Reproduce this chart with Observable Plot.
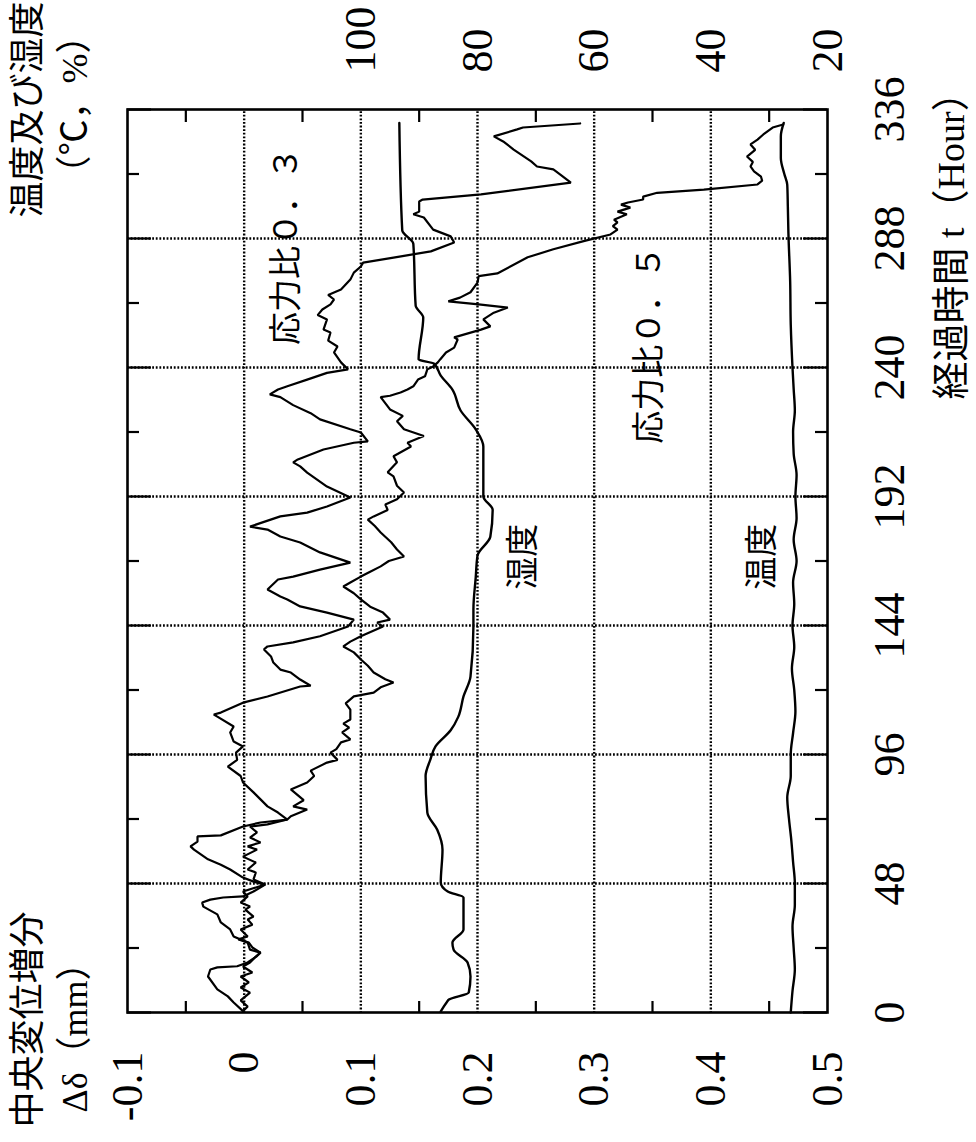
<!DOCTYPE html>
<html><head><meta charset="utf-8">
<script src="https://cdn.jsdelivr.net/npm/d3@7"></script>
<script src="https://cdn.jsdelivr.net/npm/@observablehq/plot@0.6"></script>
<style>
html,body{margin:0;padding:0;background:#fff;overflow:hidden;width:976px;height:1142px;}
#rot{position:absolute;left:0;top:0;width:1142px;height:976px;transform-origin:0 0;transform:translate(0,1142px) rotate(-90deg);}
</style></head><body><div id="rot"></div>
<script>
// ---- data ----
const hourTicks = [0, 48, 96, 144, 192, 240, 288, 336];
const hourMinor = [24, 72, 120, 168, 216, 264, 312];
const deltaTicks = [-0.1, 0, 0.1, 0.2, 0.3, 0.4, 0.5];
const deltaTickLabels = ["-0.1", "0", "0.1", "0.2", "0.3", "0.4", "0.5"];
const deltaMinor = [-0.05, 0.05, 0.15, 0.25, 0.35, 0.45];
const envTicks = [100, 80, 60, 40, 20];

// stress ratio 0.3 : [hour, Δδ (mm)]
const ratio03 = [[0.5,-0.001],[3.7,-0.009],[6,-0.014],[8.6,-0.023],[13.4,-0.031],[16,-0.029],[16.8,-0.023],[17.2,-0.006],[18.6,0.003],[21,0.011],[22.3,0.014],[23.4,0.005],[26,0.003],[28.3,-0.009],[30.9,-0.012],[33.5,-0.020],[36.5,-0.023],[39.4,-0.035],[40.9,-0.036],[42,-0.029],[42.8,-0.018],[43.2,-0.001],[45,0.008],[47.6,0.018],[48.7,0.008],[50.2,-0.001],[53.2,-0.012],[55,-0.020],[57,-0.031],[60.6,-0.043],[61.8,-0.046],[63.6,-0.040],[65.5,-0.040],[65.9,-0.020],[69.2,-0.001],[70.7,0.014],[71.8,0.037],[74.4,0.029],[76.7,0.020],[79.3,0.014],[81.9,0.008],[85.6,-0.001],[88,-0.003],[91.5,-0.014],[94,-0.006],[96.7,-0.007],[99,-0.001],[100.8,-0.009],[104.2,-0.012],[106.4,-0.009],[110.1,-0.023],[110.9,-0.026],[111.6,-0.020],[115.3,-0.001],[117.6,0.020],[121.3,0.048],[121.6,0.057],[123.9,0.048],[126.5,0.040],[127.6,0.031],[130.2,0.025],[132.5,0.023],[135.1,0.017],[136.2,0.020],[137.7,0.042],[140,0.065],[143.6,0.089],[146.2,0.094],[148.8,0.071],[151.1,0.048],[153.7,0.037],[154.8,0.031],[157.4,0.020],[161.1,0.029],[162.2,0.042],[164.8,0.065],[167.4,0.091],[171.2,0.065],[174.9,0.048],[177.1,0.031],[179.7,0.020],[180.8,0.005],[184.6,0.031],[186,0.054],[188.3,0.071],[191.6,0.091],[195.7,0.071],[200.9,0.054],[203.2,0.048],[204.7,0.042],[205.8,0.046],[209.5,0.068],[212,0.094],[212.5,0.106],[215.8,0.100],[217,0.091],[220.7,0.065],[223,0.057],[226,0.042],[229,0.031],[230,0.022],[231.8,0.029],[233,0.037],[235.5,0.054],[238,0.071],[239.3,0.089],[241.9,0.083],[245.6,0.077],[247.8,0.080],[250,0.072],[253,0.074],[254.1,0.068],[257.9,0.071],[259.5,0.063],[261.6,0.067],[263.5,0.074],[265.3,0.077],[267,0.072],[269,0.083],[272.7,0.091],[275.3,0.094],[277.6,0.100],[279,0.102],[280.9,0.128],[283.2,0.160],[286.5,0.180],[288.8,0.177],[291.3,0.162],[295.8,0.154],[297,0.145],[298,0.150],[301.8,0.150],[302.5,0.153],[304.4,0.203],[308.8,0.280],[311.8,0.271],[313.7,0.265],[314.8,0.251],[316.7,0.246],[321.1,0.231],[324.1,0.222],[326,0.214],[328.6,0.234],[329.3,0.239],[330.8,0.288]];

// stress ratio 0.5 : [hour, Δδ (mm)]
const ratio05 = [[0.5,-0.001],[2.2,0.003],[4.5,-0.003],[7.4,0.005],[9.3,-0.003],[11.2,0.004],[13.4,-0.003],[14.9,0.007],[17.1,-0.001],[18.6,0.005],[20.8,0.010],[22.3,0.014],[24.2,0.007],[26,0.004],[27.2,-0.005],[28.3,0.003],[30.9,-0.003],[32.7,0.007],[34.6,0.003],[35.7,0.008],[38.3,0.001],[39.4,0.005],[40.9,-0.003],[43.2,0.003],[45,-0.001],[47.6,0.018],[49.5,0.008],[52.1,0.010],[53.2,0.003],[55.8,0.010],[58,-0.001],[60.6,0.011],[61.8,0.003],[63.3,0.014],[65.1,0.005],[67,0.011],[69.2,0.005],[70,0.020],[71.8,0.037],[73,0.040],[75.5,0.054],[76.7,0.042],[79,0.051],[83,0.040],[85.6,0.054],[88,0.060],[90,0.057],[93,0.071],[94,0.080],[96.7,0.074],[98,0.079],[100.5,0.083],[101.6,0.091],[104.2,0.084],[106,0.090],[107.5,0.085],[109,0.091],[112.7,0.091],[115,0.087],[117.6,0.094],[119,0.111],[121,0.117],[122.8,0.128],[124,0.121],[126.5,0.111],[129,0.106],[131,0.101],[134,0.094],[136.2,0.085],[138,0.091],[140,0.100],[143.6,0.119],[145.1,0.114],[146.2,0.125],[148.8,0.119],[151,0.108],[153.7,0.100],[156,0.094],[158.5,0.085],[160,0.091],[162.2,0.100],[164,0.108],[166,0.117],[168,0.124],[169.7,0.137],[172.3,0.131],[175,0.126],[178.6,0.117],[181,0.112],[183.4,0.106],[184.6,0.111],[187,0.123],[189,0.121],[191,0.131],[193.5,0.137],[196,0.131],[199.5,0.128],[201,0.123],[204.7,0.131],[207,0.128],[210.6,0.143],[212,0.140],[214.5,0.154],[217,0.137],[220,0.131],[222,0.136],[224.4,0.125],[229,0.117],[229.5,0.125],[230.7,0.134],[231.8,0.140],[233,0.145],[235.5,0.149],[236.7,0.155],[239.3,0.157],[240.4,0.162],[241.9,0.166],[243,0.168],[245.6,0.173],[247.4,0.180],[250.4,0.183],[251.2,0.180],[254.1,0.203],[255.3,0.211],[257.9,0.205],[260.4,0.214],[262.3,0.226],[263.5,0.201],[264.6,0.175],[266,0.185],[268,0.194],[271.6,0.200],[274,0.201],[275,0.217],[281,0.243],[284,0.265],[287,0.291],[289.5,0.314],[291.3,0.320],[292.6,0.316],[294,0.320],[295,0.317],[297,0.328],[298,0.320],[299.5,0.331],[300.6,0.323],[301.4,0.329],[302.5,0.342],[303.6,0.342],[305,0.354],[306.2,0.394],[308.1,0.440],[309.5,0.444],[311,0.443],[313,0.437],[314.8,0.434],[316.5,0.436],[318.5,0.431],[321,0.438],[323,0.434],[324.8,0.440],[326.7,0.445],[329.3,0.453],[330.4,0.462]];

// humidity (%) : [hour, value]
const humidity = [[0.4,86.3],[3.7,85.3],[4.8,84.9],[7.4,81.5],[13.4,81.2],[18.6,81.7],[23.4,84.1],[26,84.3],[30.9,82.4],[42.8,82.4],[45,85.1],[48.4,86.3],[60.6,86],[68,86.9],[74.4,88.6],[88,88.9],[94,88.1],[99,87.2],[105,84.6],[110,83.3],[117.6,82.4],[125,81.2],[143.6,80.7],[150,80.7],[162,80.3],[170,80],[177,77.8],[187,77.4],[192,79],[210.6,79],[217,80.3],[224,82.9],[231.8,84.3],[237,86.3],[241.5,87.5],[243,90.1],[258.6,89.3],[263,90.6],[286,91],[291,92.9],[331,93.4]];

// temperature (°C) : [hour, value]
const temperature = [[0,26.3],[8,26.0],[16,25.6],[24,25.8],[32,26.0],[40,25.6],[48,25.6],[56,25.9],[64,26.2],[72,26.6],[80,26.9],[88,26.3],[96,26.3],[104,25.9],[112,25.5],[120,25.7],[128,26.1],[136,25.7],[144,26.0],[152,25.7],[160,25.9],[168,25.3],[176,25.8],[184,25.3],[192,25.5],[200,25.3],[208,25.8],[216,25.9],[224,25.6],[232,25.8],[240,26.0],[256,26.3],[272,26.4],[290,26.7],[300,26.8],[308,26.9],[312,27.4],[318,28.0],[326,28.0],[331,27.5]];

// in-plot annotations: [hour, Δδ, text]
const annotations = [[285.2, 0.036, "応力比０．３"], [248.5, 0.347, "応力比０．５"], [169.6, 0.239, "湿度"], [169.6, 0.444, "温度"]];

// ---- layout ----
const W = 1142, H = 976, mL = 129, mR = 110, mT = 127, mB = 149;
const pxPerH = (W - mL - mR) / 336;
const pxPerD = (H - mT - mB) / 0.6;
const envToY = v => 0.6 - 0.005 * v;   // secondary axis: 100 ↔ 0.1, 20 ↔ 0.5
const majorLen = 24, minorLen = 12;
const font = '"Liberation Serif","Noto Sans CJK JP",serif';
const dot = {stroke: "black", strokeWidth: 2.4, strokeDasharray: "1.8,1.8"};

const plot = Plot.plot({
  width: W, height: H,
  marginLeft: mL, marginRight: mR, marginTop: mT, marginBottom: mB,
  style: {fontFamily: font, background: "white", color: "black", overflow: "visible"},
  x: {domain: [0, 336]},
  y: {domain: [-0.1, 0.5], reverse: true},
  marks: [
    // dotted grid
    Plot.ruleX(hourTicks.slice(1, -1), dot),
    Plot.ruleY(deltaTicks.slice(1, -1), dot),
    // inner ticks on the time axis (top & bottom of frame)
    Plot.ruleX(hourTicks, {y1: 0.5, y2: 0.5 - majorLen / pxPerD, stroke: "black", strokeWidth: 2.2}),
    Plot.ruleX(hourTicks, {y1: -0.1, y2: -0.1 + majorLen / pxPerD, stroke: "black", strokeWidth: 2.2}),
    Plot.ruleX(hourMinor, {y1: 0.5, y2: 0.5 - minorLen / pxPerD, stroke: "black", strokeWidth: 2.2}),
    Plot.ruleX(hourMinor, {y1: -0.1, y2: -0.1 + minorLen / pxPerD, stroke: "black", strokeWidth: 2.2}),
    // inner ticks on the Δδ axis (left & right of frame)
    Plot.ruleY(deltaMinor, {x1: 0, x2: minorLen / pxPerH, stroke: "black", strokeWidth: 2.2}),
    Plot.ruleY(deltaMinor, {x1: 336, x2: 336 - minorLen / pxPerH, stroke: "black", strokeWidth: 2.2}),
    Plot.frame({stroke: "black", strokeWidth: 2.6}),
    // curves
    Plot.line(humidity, {x: d => d[0], y: d => envToY(d[1]), curve: "monotone-x", stroke: "black", strokeWidth: 2.4}),
    Plot.line(temperature, {x: d => d[0], y: d => envToY(d[1]), curve: "monotone-x", stroke: "black", strokeWidth: 2.4}),
    Plot.line(ratio03, {x: d => d[0], y: d => d[1], stroke: "black", strokeWidth: 2.2, strokeLinejoin: "miter"}),
    Plot.line(ratio05, {x: d => d[0], y: d => d[1], stroke: "black", strokeWidth: 2.2, strokeLinejoin: "miter"}),
    // annotations
    Plot.text(annotations, {x: d => d[0], y: d => d[1], text: d => d[2], fontSize: 33, fill: "black"}),
    // axes
    Plot.axisX({anchor: "bottom", ticks: hourTicks, tickSize: 0, tickPadding: 45, fontSize: 44, tickFormat: d => String(d), label: null}),
    Plot.axisY({anchor: "left", ticks: deltaTicks, tickSize: 0, tickPadding: 39, fontSize: 44,
      tickFormat: d => deltaTickLabels[deltaTicks.findIndex(v => Math.abs(v - d) < 1e-9)], label: null}),
    Plot.axisY({anchor: "right", ticks: envTicks.map(envToY), tickSize: 0, tickPadding: 37, fontSize: 44,
      tickFormat: d => String(Math.round((0.6 - d) / 0.005)), label: null}),
    // axis titles
    Plot.text(["中央変位増分"], {frameAnchor: "top-left", dx: 14 - mL, dy: 28 - mT, textAnchor: "start", lineAnchor: "middle", fontSize: 36, fill: "black"}),
    Plot.text(["Δδ（mm）"], {frameAnchor: "top-left", dx: 29 - mL, dy: 75 - mT, textAnchor: "start", lineAnchor: "middle", fontSize: 36, fill: "black"}),
    Plot.text(["温度及び湿度"], {frameAnchor: "top-right", dx: 1140 - (W - mR), dy: 28 - mT, textAnchor: "end", lineAnchor: "middle", fontSize: 36, fill: "black"}),
    Plot.text(["（℃，%）"], {frameAnchor: "top-right", dx: 1037 - (W - mR), dy: 75 - mT, textAnchor: "middle", lineAnchor: "middle", fontSize: 36, fill: "black"}),
    Plot.text(["経過時間 t（Hour）"], {frameAnchor: "bottom-left", dx: 742 - mL, dy: 951 - (H - mB), textAnchor: "start", lineAnchor: "middle", fontSize: 38, fill: "black"})
  ]
});
document.getElementById("rot").append(plot);
</script>
</body></html>
